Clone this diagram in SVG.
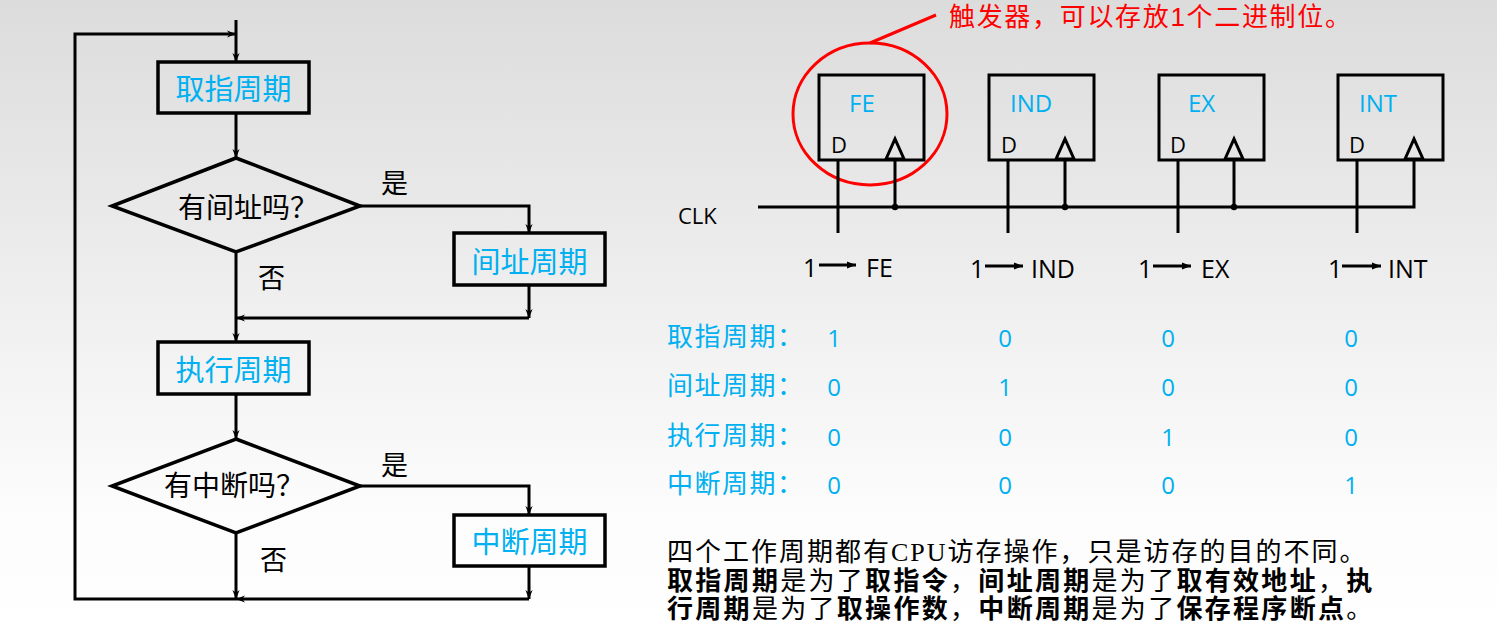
<svg xmlns="http://www.w3.org/2000/svg" width="1497" height="636" viewBox="0 0 1497 636">
<defs>
<linearGradient id="bg" x1="0" y1="0" x2="0" y2="1">
<stop offset="0" stop-color="#dcdcdc"/>
<stop offset="0.8" stop-color="#fcfcfc"/>
<stop offset="1" stop-color="#ffffff"/>
</linearGradient>
<marker id="arr" viewBox="0 0 10 10" refX="10" refY="5" markerWidth="9" markerHeight="9" markerUnits="userSpaceOnUse" orient="auto">
<path d="M0,1 L10,5 L0,9 L3,5 z" fill="#000"/>
</marker>
<marker id="arr2" viewBox="0 0 10 10" refX="10" refY="5" markerWidth="10" markerHeight="9" markerUnits="userSpaceOnUse" orient="auto">
<path d="M0,1 L10,5 L0,9 z" fill="#000"/>
</marker>
<style>
.ln{fill:none;stroke:#000;stroke-width:3}
.box{fill:none;stroke:#000;stroke-width:3.5}
.ff{fill:none;stroke:#000;stroke-width:3}
.cjk{font-family:"Noto Sans CJK SC","Noto Sans",sans-serif}
.blue{fill:#00b0f0}
.blk{fill:#000}
.lat{font-family:"Open Sans","Noto Sans",sans-serif}
.red{fill:#ff0000}
</style>
</defs>
<rect x="0" y="0" width="1497" height="636" fill="url(#bg)"/>

<!-- flowchart nodes -->
<g id="n-fetch">
<rect class="box" x="158" y="62" width="151" height="51"/>
<text class="cjk blue" x="233.5" y="100" font-size="29" text-anchor="middle">取指周期</text>
</g>
<g id="n-q-ind">
<polygon class="box" points="236,158 360,206 236,252 112,206"/>
<text class="cjk blk" x="178" y="218" font-size="28">有间址吗？</text>
</g>
<g id="n-ind">
<rect class="box" x="454" y="233" width="151" height="52"/>
<text class="cjk blue" x="529.5" y="273" font-size="29" text-anchor="middle">间址周期</text>
</g>
<g id="n-exec">
<rect class="box" x="158" y="342" width="151" height="52"/>
<text class="cjk blue" x="233.5" y="381" font-size="29" text-anchor="middle">执行周期</text>
</g>
<g id="n-q-int">
<polygon class="box" points="236,439 360,486 236,533 112,486"/>
<text class="cjk blk" x="164" y="496" font-size="28">有中断吗？</text>
</g>
<g id="n-int">
<rect class="box" x="454" y="515" width="151" height="51"/>
<text class="cjk blue" x="529.5" y="553" font-size="29" text-anchor="middle">中断周期</text>
</g>

<!-- flowchart connectors -->
<g id="flow-connectors">
<line class="ln" x1="236" y1="20" x2="236" y2="62" marker-end="url(#arr)"/>
<line class="ln" x1="236" y1="113" x2="236" y2="158" marker-end="url(#arr)"/>
<polyline class="ln" points="360,206 529,206 529,233" marker-end="url(#arr)"/>
<line class="ln" x1="236" y1="252" x2="236" y2="342" marker-end="url(#arr)"/>
<line class="ln" x1="529" y1="285" x2="529" y2="318" marker-end="url(#arr)"/>
<line class="ln" x1="529" y1="318" x2="236" y2="318" marker-end="url(#arr)"/>
<line class="ln" x1="236" y1="394" x2="236" y2="439" marker-end="url(#arr)"/>
<polyline class="ln" points="360,486 529,486 529,515" marker-end="url(#arr)"/>
<line class="ln" x1="236" y1="533" x2="236" y2="599" marker-end="url(#arr)"/>
<line class="ln" x1="529" y1="566" x2="529" y2="599" marker-end="url(#arr)"/>
<line class="ln" x1="529" y1="599" x2="236" y2="599" marker-end="url(#arr)"/>
<polyline class="ln" points="236,599 75,599 75,34 236,34" marker-end="url(#arr)"/>
<text class="cjk blk" x="381" y="193" font-size="27">是</text>
<text class="cjk blk" x="258" y="288" font-size="27">否</text>
<text class="cjk blk" x="381" y="475" font-size="27">是</text>
<text class="cjk blk" x="260" y="570" font-size="27">否</text>
</g>

<!-- annotation -->
<g id="annotation">
<ellipse cx="870" cy="114" rx="77" ry="71" fill="none" stroke="#ff0000" stroke-width="3"/>
<line x1="870" y1="43" x2="936" y2="15" stroke="#ff0000" stroke-width="3"/>
<text class="red" font-family="'Liberation Sans','Noto Sans CJK SC',sans-serif" x="949" y="26" font-size="26" textLength="402" lengthAdjust="spacing">触发器，可以存放1个二进制位。</text>
</g>

<!-- flip-flops -->
<g id="ff-fe">
<rect class="ff" x="819" y="75" width="105" height="85"/>
<text class="lat blue" x="849" y="112" font-size="24">FE</text>
<text class="lat blk" x="831" y="153" font-size="22">D</text>
<polygon class="ff" points="886,159 895,139 904,159"/>
</g>
<g id="ff-ind">
<rect class="ff" x="989" y="75" width="105" height="85"/>
<text class="lat blue" x="1010" y="112" font-size="24">IND</text>
<text class="lat blk" x="1001" y="153" font-size="22">D</text>
<polygon class="ff" points="1056,159 1065,139 1074,159"/>
</g>
<g id="ff-ex">
<rect class="ff" x="1159" y="75" width="105" height="85"/>
<text class="lat blue" x="1188" y="112" font-size="24">EX</text>
<text class="lat blk" x="1170" y="153" font-size="22">D</text>
<polygon class="ff" points="1225,159 1234,139 1243,159"/>
</g>
<g id="ff-int">
<rect class="ff" x="1338" y="75" width="105" height="85"/>
<text class="lat blue" x="1359" y="112" font-size="24">INT</text>
<text class="lat blk" x="1349" y="153" font-size="22">D</text>
<polygon class="ff" points="1405,159 1414,139 1423,159"/>
</g>

<g id="ff-connectors">
<polyline class="ff" points="758,207 1414,207 1414,160"/>
<line class="ff" x1="895" y1="160" x2="895" y2="207"/>
<line class="ff" x1="1065" y1="160" x2="1065" y2="207"/>
<line class="ff" x1="1234" y1="160" x2="1234" y2="207"/>
<line class="ff" x1="838" y1="160" x2="838" y2="233"/>
<line class="ff" x1="1008" y1="160" x2="1008" y2="233"/>
<line class="ff" x1="1178" y1="160" x2="1178" y2="233"/>
<line class="ff" x1="1357" y1="160" x2="1357" y2="233"/>
<circle cx="895" cy="207" r="3.2" fill="#000"/>
<circle cx="1065" cy="207" r="3.2" fill="#000"/>
<circle cx="1234" cy="207" r="3.2" fill="#000"/>
<text class="lat blk" x="678" y="224" font-size="22">CLK</text>
</g>

<!-- set labels -->
<g id="set-labels">
<text class="lat blk" x="803" y="277" font-size="25">1</text>
<line x1="819" y1="265" x2="856" y2="265" stroke="#000" stroke-width="3" marker-end="url(#arr2)"/>
<text class="lat blk" x="866" y="277" font-size="25">FE</text>
<text class="lat blk" x="970" y="278" font-size="25">1</text>
<line x1="985" y1="266" x2="1023" y2="266" stroke="#000" stroke-width="3" marker-end="url(#arr2)"/>
<text class="lat blk" x="1031" y="278" font-size="25">IND</text>
<text class="lat blk" x="1138" y="278" font-size="25">1</text>
<line x1="1153" y1="266" x2="1191" y2="266" stroke="#000" stroke-width="3" marker-end="url(#arr2)"/>
<text class="lat blk" x="1201" y="278" font-size="25">EX</text>
<text class="lat blk" x="1328" y="278" font-size="25">1</text>
<line x1="1342" y1="266" x2="1381" y2="266" stroke="#000" stroke-width="3" marker-end="url(#arr2)"/>
<text class="lat blk" x="1388" y="278" font-size="25">INT</text>
</g>

<!-- table -->
<g id="table">
<text class="cjk blue" x="667" y="346" font-size="26" letter-spacing="1.5">取指周期：</text>
<text class="cjk blue" x="667" y="395" font-size="26" letter-spacing="1.5">间址周期：</text>
<text class="cjk blue" x="667" y="445" font-size="26" letter-spacing="1.5">执行周期：</text>
<text class="cjk blue" x="667" y="493" font-size="26" letter-spacing="1.5">中断周期：</text>
<g class="lat blue" font-size="24" text-anchor="middle">
<text x="834" y="347">1</text><text x="1005" y="347">0</text><text x="1168" y="347">0</text><text x="1351" y="347">0</text>
<text x="834" y="396">0</text><text x="1005" y="396">1</text><text x="1168" y="396">0</text><text x="1351" y="396">0</text>
<text x="834" y="446">0</text><text x="1005" y="446">0</text><text x="1168" y="446">1</text><text x="1351" y="446">0</text>
<text x="834" y="494">0</text><text x="1005" y="494">0</text><text x="1168" y="494">0</text><text x="1351" y="494">1</text>
</g>
</g>

<!-- paragraph -->
<g id="paragraph" font-family="'Liberation Serif','Noto Sans CJK SC',serif" font-size="26" fill="#000">
<text x="667" y="561" letter-spacing="2">四个工作周期都有CPU访存操作，只是访存的目的不同。</text>
<text x="667" y="590" letter-spacing="2.3"><tspan font-weight="bold">取指周期</tspan>是为了<tspan font-weight="bold">取指令</tspan>，<tspan font-weight="bold">间址周期</tspan>是为了<tspan font-weight="bold">取有效地址</tspan>，<tspan font-weight="bold">执</tspan></text>
<text x="667" y="618" letter-spacing="2.3"><tspan font-weight="bold">行周期</tspan>是为了<tspan font-weight="bold">取操作数</tspan>，<tspan font-weight="bold">中断周期</tspan>是为了<tspan font-weight="bold">保存程序断点</tspan>。</text>
</g>
</svg>
